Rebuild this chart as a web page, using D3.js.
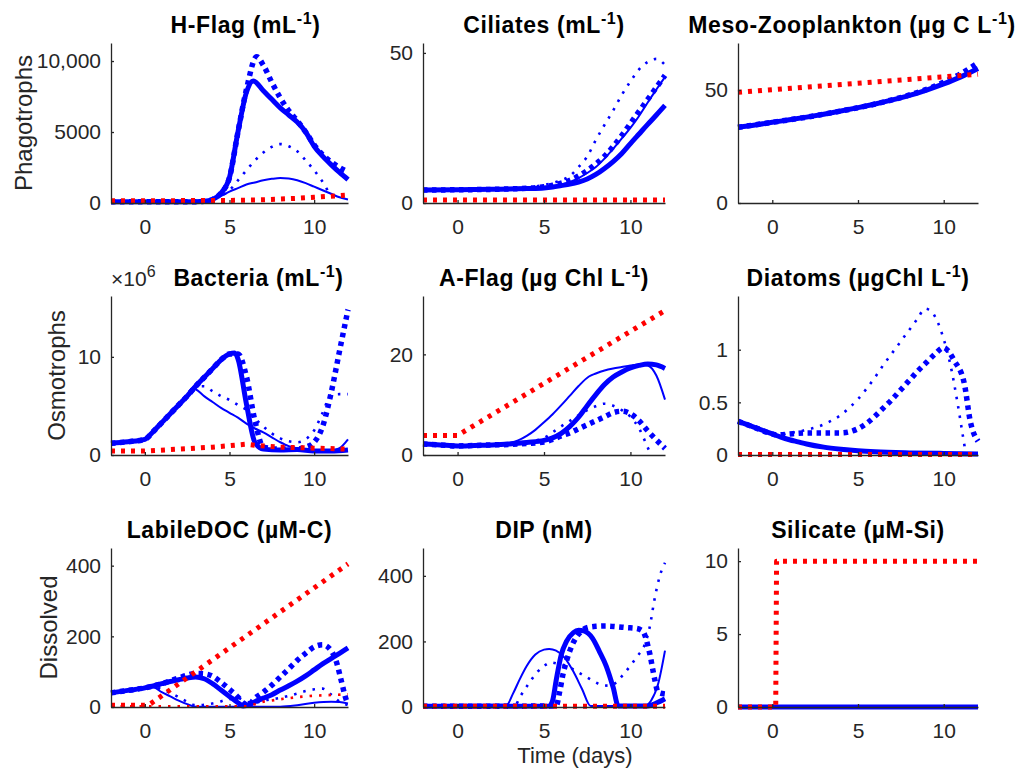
<!DOCTYPE html>
<html>
<head>
<meta charset="utf-8">
<script src="https://cdn.jsdelivr.net/npm/d3@7"></script>
<style>
  body { margin: 0; background: #fff; }
  text { font-family: "Liberation Sans", Arial, Helvetica, sans-serif; }
</style>
</head>
<body>
<div id="chart"></div>
<script>
// time axis (days)
const xDomain = [-2, 12]
const xTicks = [0, 5, 10]

// H-Flag (mL-1)
const hflagA = [[-2,80],[3,90],[3.5,120],[4,250],[4.5,700],[5,1800],[5.5,5000],[6,7800],[6.4,8600],[7,7900],[7.5,7300],[8,6700],[8.5,6200],[9,5700],[9.5,5000],[10,4000],[10.5,3300],[11,2700],[11.5,2150],[12,1650]]
const hflagB = [[-2,80],[3,100],[3.5,150],[4,300],[4.5,500],[5,800],[5.5,1050],[6,1300],[6.5,1450],[7,1600],[7.5,1700],[8,1760],[8.5,1720],[9,1600],[9.5,1400],[10,1150],[10.5,900],[11,650],[11.5,400],[12,250]]
const hflagC = [[-2,80],[3,90],[3.5,120],[4,250],[4.5,700],[5,1800],[5.5,5000],[6,8000],[6.6,10300],[7,9700],[7.5,8500],[8,7400],[8.5,6500],[9,5800],[9.5,5000],[10,4100],[10.5,3400],[11,2900],[11.5,2500],[12,2200]]
const hflagD = [[-2,80],[3,90],[3.5,120],[4,250],[4.5,500],[5,900],[5.5,1600],[6,2300],[6.5,3000],[7,3550],[7.5,3950],[8,4150],[8.5,4000],[9,3650],[9.5,3000],[10,2300],[10.5,1500],[11,600],[11.5,420],[12,400]]
const hflagE = [[-2,150],[5,180],[6,200],[7,230],[8,280],[9,330],[10,400],[11,480],[12,560]]
const hflagTicks = [0, 5000, 10000]
const hflagLabels = ['0', '5000', '10,000']

// Ciliates (mL-1)
const ciliA = [[-2,4.3],[0,4.4],[2,4.55],[4,4.8],[5,5.0],[5.5,5.3],[6,5.8],[6.5,6.3],[7,7.0],[7.5,8.0],[8,9.5],[8.5,11.5],[9,13.8],[9.5,16.5],[10,19.8],[10.5,23],[11,26.2],[11.5,29.3],[12,32.5]]
const ciliB = [[-2,4.3],[0,4.4],[2,4.55],[4,4.8],[5,5.1],[5.5,5.5],[6,6.1],[6.5,7.0],[7,8.3],[7.5,10],[8,12],[8.5,14.8],[9,18],[9.5,21.5],[10,25],[10.5,29],[11,33.5],[11.5,37.8],[12,42]]
const ciliC = [[-2,4.3],[0,4.4],[2,4.55],[3,4.7],[4,4.9],[4.5,5.1],[5,5.4],[5.5,5.9],[6,6.6],[6.5,7.6],[7,9],[7.5,10.8],[8,13],[8.5,15.6],[9,18.8],[9.5,22.5],[10,26.5],[10.5,30.5],[11,34.5],[11.5,38.5],[12,42.5]]
const ciliD = [[-2,4.3],[0,4.4],[2,4.55],[3,4.7],[3.5,4.9],[4,5.1],[4.5,5.5],[5,6.0],[5.5,6.7],[6,7.6],[6.5,9.0],[7,12],[7.5,15.5],[8,21],[8.5,26],[9,30.8],[9.5,36],[10,40.5],[10.5,44.5],[11,47],[11.5,48],[12,46]]
const ciliE = [[-2,1.0],[12,1.0]]
const ciliTicks = [0, 50]

// Meso-Zooplankton (ug C L-1)
const mesoA = [[-2,33.5],[-1,34.5],[0,35.7],[1,36.8],[2,38],[3,39.3],[4,40.7],[5,42.2],[6,43.8],[7,45.6],[8,47.6],[9,50],[10,52.7],[11,55.8],[12,59.5]]
const mesoC = [[-2,33.5],[0,35.7],[2,38],[4,40.7],[6,43.8],[8,47.8],[9,50.3],[10,53.4],[10.5,55.3],[11,57.2],[11.5,59.5],[12,62]]
const mesoE = [[-2,49],[12,57]]
const mesoTicks = [0, 50]

// Bacteria (x10^6 mL-1)
const bactA = [[-2,1.2],[-1,1.35],[0,1.6],[0.5,2.4],[1,3.3],[1.5,4.2],[2,5.1],[2.5,6.0],[3,7.0],[3.5,7.9],[4,8.8],[4.5,9.7],[5,10.3],[5.3,10.4],[5.5,9.8],[6,5.2],[6.5,1.3],[7,0.6],[8,0.5],[9,0.55],[10,0.4],[11,0.4],[12,0.5]]
const bactB = [[-2,1.2],[-1,1.35],[0,1.6],[0.5,2.4],[1,3.3],[1.5,4.2],[2,5.1],[2.5,6.0],[2.8,6.8],[3,6.7],[3.5,6.0],[4,5.4],[4.5,4.8],[5,4.3],[5.5,3.8],[6,3.2],[6.5,2.7],[7,2.3],[7.5,1.8],[8,1.3],[8.5,0.9],[9,0.7],[10,0.5],[11,0.45],[11.5,0.7],[12,1.6]]
const bactC = [[-2,1.2],[-1,1.35],[0,1.6],[0.5,2.4],[1,3.3],[1.5,4.2],[2,5.1],[2.5,6.0],[3,7.0],[3.5,7.9],[4,8.8],[4.5,9.7],[5,10.3],[5.5,10.3],[6,8.0],[6.5,3.5],[7,0.8],[8,0.6],[9,0.6],[9.5,0.8],[10,1.3],[10.5,2.9],[11,6.3],[11.5,10.6],[12,14.8]]
const bactD = [[-2,1.2],[-1,1.35],[0,1.6],[0.5,2.4],[1,3.3],[1.5,4.2],[2,5.1],[2.5,6.0],[3,7.0],[3.5,7.0],[4,6.5],[4.5,6.0],[5,5.6],[5.5,5.1],[6,4.6],[6.5,3.7],[7,2.9],[7.5,2.2],[8,1.7],[8.5,1.4],[9,1.3],[9.5,1.6],[10,2.5],[10.5,4.3],[11,6.1],[11.5,6.2],[12,6.2]]
const bactE = [[-2,0.4],[0,0.4],[2,0.6],[4,0.8],[6,1.1],[6.5,1.0],[8,0.8],[10,0.7],[12,0.6]]
const bactTicks = [0, 10]

// A-Flag (ug Chl L-1)
const aflagA = [[-2,2.2],[-1,2.0],[0,1.8],[1,1.9],[2,2.0],[3,2.2],[4,2.5],[5,2.9],[5.5,3.4],[6,4.3],[6.5,5.7],[7,7.5],[7.5,9.8],[8,12.0],[8.5,14.0],[9,15.5],[9.5,16.5],[10,17.3],[10.5,17.8],[11,18.1],[11.5,17.9],[12,17.2]]
const aflagB = [[-2,2.2],[-1,2.0],[0,1.8],[1,1.9],[2,2.0],[3,2.4],[3.5,2.9],[4,3.8],[4.5,5.0],[5,6.5],[5.5,8.1],[6,9.9],[6.5,11.8],[7,13.7],[7.6,15.6],[8,16.2],[8.5,16.8],[9,17.2],[9.5,17.5],[10,17.8],[10.5,18.0],[11,17.8],[11.5,15.8],[12,11.0]]
const aflagC = [[-2,2.2],[-1,2.0],[0,1.8],[1,1.9],[2,2.0],[3,2.1],[4,2.3],[5,2.6],[5.5,3.1],[6,3.8],[6.5,4.4],[7,5.2],[7.5,6.0],[8,6.8],[8.5,7.6],[9,8.4],[9.5,8.7],[10,8.2],[10.5,6.8],[11,4.8],[11.5,3.0],[12,1.3]]
const aflagD = [[-2,2.2],[-1,2.0],[0,1.8],[1,1.9],[2,2.0],[3,2.2],[4,2.6],[5,3.4],[5.5,4.5],[6,5.7],[6.5,6.8],[7,7.9],[7.5,8.9],[8,9.7],[8.5,10.2],[9,9.8],[9.5,8.9],[10,7.6],[10.5,5.3],[11,1.5],[11.2,0]]
const aflagE = [[-2,3.9],[0,3.9],[12,28.7]]
const aflagTicks = [0, 20]

// Diatoms (ugChl L-1)
const diatA = [[-2,0.32],[-1.5,0.29],[-1,0.26],[-0.5,0.23],[0,0.2],[0.5,0.17],[1,0.145],[1.5,0.125],[2,0.105],[3,0.075],[4,0.055],[5,0.04],[6,0.03],[8,0.02],[10,0.015],[12,0.01]]
const diatC = [[-2,0.32],[-1,0.26],[0,0.2],[0.3,0.19],[1,0.2],[2,0.21],[3,0.21],[4,0.21],[4.5,0.22],[5,0.25],[5.5,0.3],[6,0.37],[6.5,0.45],[7,0.53],[7.5,0.62],[8,0.71],[8.5,0.8],[9,0.88],[9.5,0.96],[10,1.02],[10.3,0.98],[10.6,0.9],[11.2,0.68],[11.55,0.32],[12,0.13]]
const diatD = [[-2,0.32],[-1,0.26],[0,0.2],[0.3,0.19],[1,0.21],[1.5,0.22],[2,0.24],[2.5,0.26],[3,0.29],[3.5,0.33],[4,0.38],[4.5,0.45],[5,0.53],[5.5,0.63],[6,0.74],[6.5,0.86],[7,0.97],[7.5,1.08],[8,1.19],[8.5,1.3],[8.9,1.39],[9.3,1.36],[9.6,1.28],[10,1.1],[10.4,0.85],[10.8,0.5],[11.1,0.2],[11.3,0]]
const diatE = [[-2,0.005],[12,0.005]]
const diatTicks = [0, 0.5, 1]

// LabileDOC (uM-C)
const docA = [[-2,40],[-1,47],[0,54],[0.5,60],[1,66],[1.5,72],[2,77],[2.5,82],[3,85],[3.5,80],[4,66],[4.5,48],[5,30],[5.5,12],[5.8,3],[6,4],[6.5,15],[7,25],[7.5,35],[8,48],[8.5,60],[9,73],[9.5,88],[10,105],[10.5,122],[11,137],[11.5,152],[12,167]]
const docB = [[-2,40],[-1,47],[0,54],[0.5,55],[1,42],[1.5,30],[2,18],[2.5,8],[3,1],[8,1],[9,5],[10,12],[11,15],[11.5,14],[12,10]]
const docC = [[-2,40],[-1,47],[0,54],[1,66],[2,82],[2.5,90],[3,95],[3.5,94],[4,87],[4.5,70],[5,50],[5.5,28],[5.8,12],[6.1,5],[6.5,25],[7,42],[7.5,62],[8,85],[8.5,108],[9,132],[9.5,152],[10,170],[10.5,176],[11,160],[11.3,130],[11.6,75],[11.9,20],[12,10]]
const docD = [[-2,40],[-1,47],[0,54],[0.5,57],[1,50],[1.5,40],[2,28],[2.5,15],[3,5],[4,10],[5,22],[5.5,25],[6,15],[6.5,12],[7,18],[8,26],[9,38],[9.5,45],[10,50],[10.5,52],[11,35],[11.5,15],[12,5]]
const docE = [[-2,5],[0,5],[0.3,8],[12,405]]
const docF = [[-2,2],[6,2],[6.5,8],[7,15],[8,22],[9,28],[10,32],[11,34],[12,36]]
const docTicks = [0, 200, 400]

// DIP (nM)
const dipA = [[-2,2],[5.3,3],[5.5,20],[5.7,80],[6,160],[6.3,200],[6.7,227],[7,234],[7.3,232],[7.8,210],[8.2,170],[8.6,125],[9,60],[9.3,3],[11,3],[11.5,12],[12,25]]
const dipB = [[-2,2],[2.8,3],[3.2,40],[3.6,85],[4,125],[4.5,160],[5,175],[5.3,177],[5.7,172],[6.2,150],[6.7,108],[7.2,55],[7.7,3],[10.8,3],[11.2,20],[11.6,70],[12,172]]
const dipC = [[-2,2],[5.7,3],[5.9,45],[6.1,100],[6.3,140],[6.7,197],[7.1,228],[7.5,242],[8,246],[8.6,247],[9.2,245],[9.8,242],[10.3,240],[10.7,232],[11.1,167],[11.4,86],[11.6,45],[12,40]]
const dipD = [[-2,2],[3.3,3],[3.6,30],[4.1,70],[4.6,106],[5,125],[5.4,136],[5.8,132],[6.3,125],[7,105],[7.5,90],[8,75],[8.4,66],[8.8,65],[9.2,76],[9.6,100],[10,126],[10.4,155],[10.8,187],[11.1,240],[11.4,330],[11.7,400],[12,440]]
const dipE = [[-2,2],[12,2]]
const dipTicks = [0, 200, 400]

// Silicate (uM-Si)
const siA = [[-2,0],[12,0]]
const siE = [[-2,0],[0.2,0],[0.25,10],[12,10]]
const siTicks = [0, 5, 10]

const blue = '#0000ff'
const red = '#ff0000'
const axisColor = '#262626'
const font = '"Liberation Sans", Arial, Helvetica, sans-serif'

// A thick solid, B thin solid, C thick dotted, D thin dotted (blue); E, F red dotted
const styles = {
  A: { color: blue, width: 5, dash: null, curve: d3.curveMonotoneX },
  B: { color: blue, width: 2, dash: null, curve: d3.curveMonotoneX },
  C: { color: blue, width: 5.5, dash: '4.5 4.5', curve: d3.curveMonotoneX },
  D: { color: blue, width: 2.6, dash: '2.5 7', curve: d3.curveMonotoneX },
  E: { color: red, width: 5, dash: '4 6', curve: d3.curveLinear },
  F: { color: red, width: 2.6, dash: '2.5 7', curve: d3.curveLinear }
}

const rows = [{ top: 43, bottom: 203 }, { top: 296, bottom: 455 }, { top: 548, bottom: 707 }]
const cols = [{ left: 111, right: 348 }, { left: 423, right: 665 }, { left: 738, right: 978 }]

const panels = [
  { row: 0, col: 0, title: ['H-Flag (mL', '-1', ')'], dx: 16, yMax: 11270, ticks: hflagTicks, labels: hflagLabels,
    ylabel: 'Phagotrophs', ylabelX: 32, series: [['A', hflagA], ['B', hflagB], ['D', hflagD], ['C', hflagC], ['E', hflagE]] },
  { row: 0, col: 1, title: ['Ciliates (mL', '-1', ')'], dx: 0, yMax: 53.3, ticks: ciliTicks,
    series: [['A', ciliA], ['B', ciliB], ['D', ciliD], ['C', ciliC], ['E', ciliE]] },
  { row: 0, col: 2, title: ['Meso-Zooplankton (µg C L', '-1', ')'], dx: -6, yMax: 70.8, ticks: mesoTicks,
    series: [['A', mesoA], ['C', mesoC], ['E', mesoE]] },
  { row: 1, col: 0, title: ['Bacteria (mL', '-1', ')'], dx: 29, yMax: 16.2, ticks: bactTicks, exponent: '6',
    ylabel: 'Osmotrophs', ylabelX: 65, series: [['A', bactA], ['B', bactB], ['D', bactD], ['C', bactC], ['E', bactE]] },
  { row: 1, col: 1, title: ['A-Flag (µg Chl L', '-1', ')'], dx: 0, yMax: 31.6, ticks: aflagTicks,
    series: [['A', aflagA], ['B', aflagB], ['D', aflagD], ['C', aflagC], ['E', aflagE]] },
  { row: 1, col: 2, title: ['Diatoms (µgChl L', '-1', ')'], dx: 0, yMax: 1.51, ticks: diatTicks,
    series: [['A', diatA], ['D', diatD], ['C', diatC], ['E', diatE]] },
  { row: 2, col: 0, title: ['LabileDOC (µM-C)'], dx: 0, yMax: 450, ticks: docTicks,
    ylabel: 'Dissolved', ylabelX: 57, series: [['A', docA], ['B', docB], ['D', docD], ['C', docC], ['E', docE], ['F', docF]] },
  { row: 2, col: 1, title: ['DIP (nM)'], dx: 0, yMax: 485, ticks: dipTicks,
    series: [['A', dipA], ['B', dipB], ['D', dipD], ['C', dipC], ['E', dipE]] },
  { row: 2, col: 2, title: ['Silicate (µM-Si)'], dx: 0, yMax: 10.9, ticks: siTicks,
    series: [['A', siA], ['E', siE]] }
]

const svg = d3.select('#chart').append('svg')
  .attr('width', 1032)
  .attr('height', 773)
  .style('background', '#fff')

panels.forEach(p => {
  const r = rows[p.row]
  const c = cols[p.col]
  const g = svg.append('g')

  const x = d3.scaleLinear().domain(xDomain).range([c.left, c.right])
  const y = d3.scaleLinear().domain([0, p.yMax]).range([r.bottom, r.top])

  p.series.forEach(([key, data]) => {
    const s = styles[key]
    const line = d3.line()
      .x(d => x(d[0]))
      .y(d => y(d[1]))
      .curve(s.curve)
    g.append('path')
      .datum(data)
      .attr('fill', 'none')
      .attr('stroke', s.color)
      .attr('stroke-width', s.width)
      .attr('stroke-dasharray', s.dash)
      .attr('stroke-linejoin', 'round')
      .attr('d', line)
  })

  const gx = g.append('g')
    .attr('transform', `translate(0,${r.bottom})`)
    .call(d3.axisBottom(x).tickValues(xTicks).tickSizeInner(-3).tickSizeOuter(0).tickPadding(16))
  const gy = g.append('g')
    .attr('transform', `translate(${c.left},0)`)
    .call(d3.axisLeft(y).tickValues(p.ticks).tickSizeInner(-3).tickSizeOuter(0).tickPadding(10)
      .tickFormat((d, i) => p.labels ? p.labels[i] : String(d)))

  ;[gx, gy].forEach(a => {
    a.attr('font-size', 21).attr('font-family', font)
    a.select('.domain').attr('stroke', axisColor).attr('stroke-width', 1.3)
    a.selectAll('.tick line').attr('stroke', axisColor).attr('stroke-width', 1.3)
    a.selectAll('.tick text').attr('fill', axisColor)
  })

  // title with superscript
  const title = g.append('text')
    .attr('x', (c.left + c.right) / 2 + p.dx)
    .attr('y', r.top - 10)
    .attr('text-anchor', 'middle')
    .attr('font-size', 23)
    .attr('font-weight', 'bold')
    .attr('letter-spacing', 0.6)
    .attr('fill', '#000')
  title.append('tspan').text(p.title[0])
  if (p.title.length > 1) {
    title.append('tspan').attr('dy', -9).attr('font-size', 16).text(p.title[1])
    title.append('tspan').attr('dy', 9).text(p.title[2])
  }

  if (p.exponent) {
    const ex = g.append('text')
      .attr('x', c.left)
      .attr('y', r.top - 10)
      .attr('font-size', 21)
      .attr('fill', axisColor)
    ex.append('tspan').text('×10')
    ex.append('tspan').attr('dy', -9).attr('font-size', 16).text(p.exponent)
  }

  if (p.ylabel) {
    g.append('text')
      .attr('transform', `translate(${p.ylabelX},${(r.top + r.bottom) / 2}) rotate(-90)`)
      .attr('text-anchor', 'middle')
      .attr('font-size', 24)
      .attr('fill', axisColor)
      .text(p.ylabel)
  }
})

svg.append('text')
  .attr('x', 575)
  .attr('y', 763)
  .attr('text-anchor', 'middle')
  .attr('font-size', 22)
  .attr('fill', axisColor)
  .text('Time (days)')
</script>
</body>
</html>
